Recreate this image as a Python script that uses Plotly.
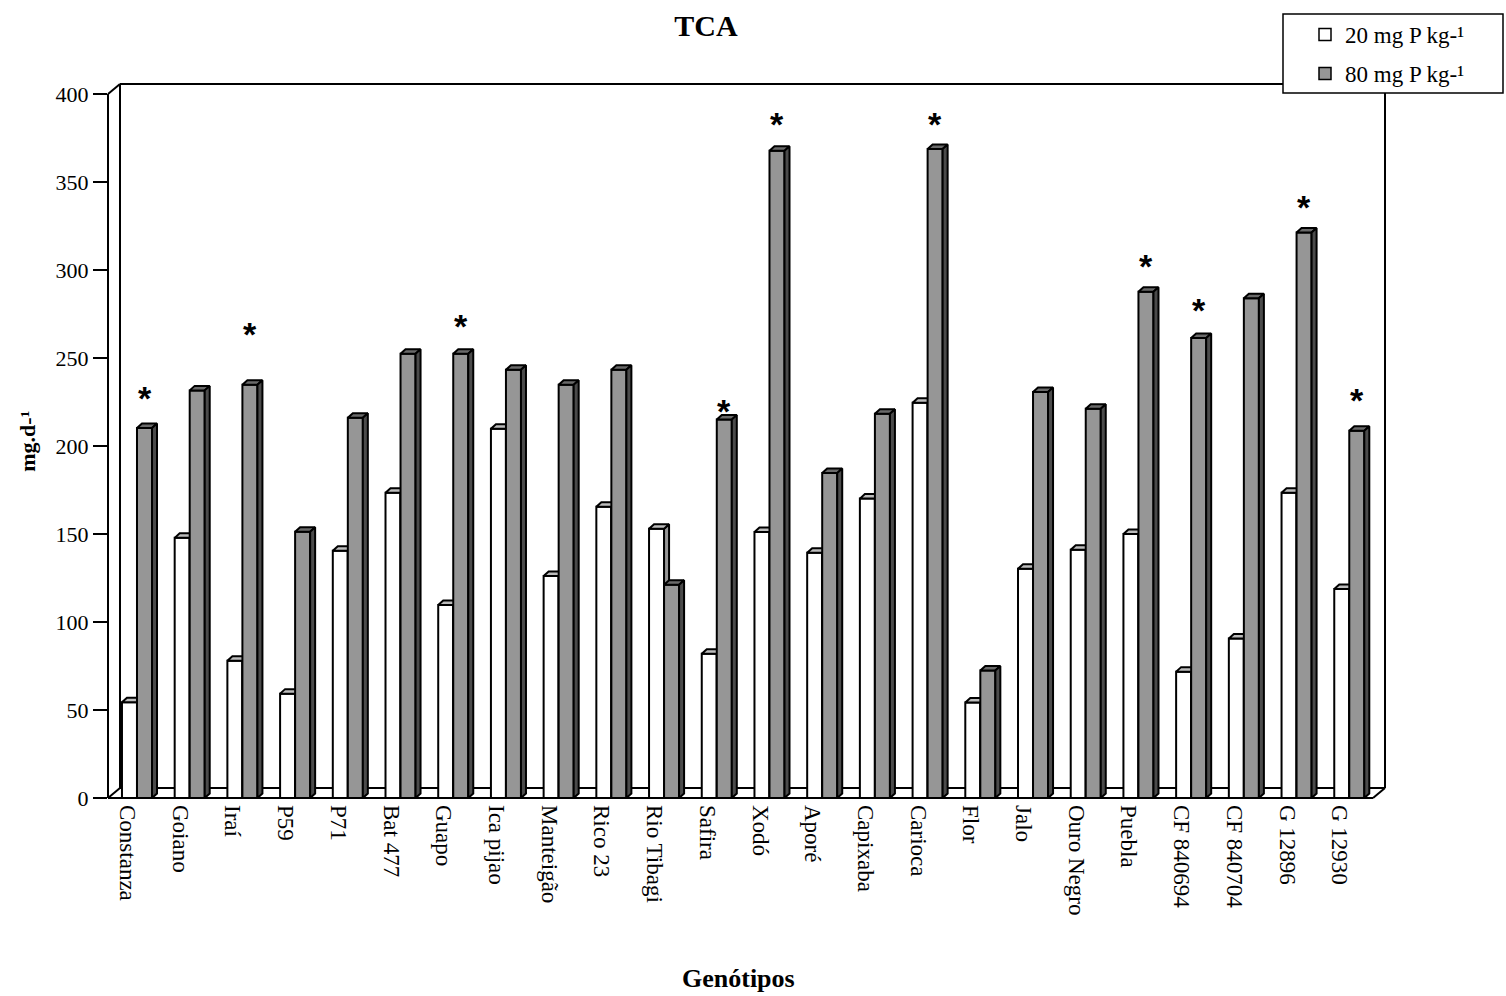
import plotly.graph_objects as go

# ---------------- data ----------------
categories = ["Constanza", "Goiano", "Iraí", "P59", "P71", "Bat 477", "Guapo",
              "Ica pijao", "Manteigão", "Rico 23", "Rio Tibagi", "Safira", "Xodó",
              "Aporé", "Capixaba", "Carioca", "Flor", "Jalo", "Ouro Negro", "Puebla",
              "CF 840694", "CF 840704", "G 12896", "G 12930"]
p20 = [54.4, 147.8, 78.0, 59.3, 140.5, 173.5, 109.6, 209.8, 126.1, 165.5, 153.0, 82.0,
       151.2, 139.4, 170.1, 224.6, 54.2, 130.3, 141.1, 150.0, 71.8, 90.6, 173.5, 118.7]
p80 = [210.2, 231.6, 234.8, 151.3, 216.1, 252.4, 252.4, 243.3, 234.8, 243.3, 121.2, 215.0,
       367.7, 184.6, 218.3, 368.8, 72.4, 230.7, 221.2, 287.6, 261.3, 284.0, 321.3, 208.6]
star_cats = ["Constanza", "Iraí", "Guapo", "Safira", "Xodó", "Carioca", "Puebla",
             "CF 840694", "G 12896", "G 12930"]
star_y = [229.7, 266.0, 270.6, 222.4, 385.3, 385.3, 304.8, 279.7, 338.3, 228.6]
y_ticks = [0, 50, 100, 150, 200, 250, 300, 350, 400]
series_names = ["20 mg P kg-¹", "80 mg P kg-¹"]

# ---------------- geometry ----------------
W, H = 1506, 996
ML, MR, MT, MB = 108, 121, 84, 197.5
plot_w = W - ML - MR
plot_h = H - MT - MB
n = len(categories)
wall_dx_px, wall_dy_px = 12, 10
bar_dx_px, bar_dy_px = 5, 4.5
y_front_top = y_ticks[-1]
sx = (plot_w - wall_dx_px) / n
sy = (plot_h - wall_dy_px) / y_front_top
wdx, wdy = wall_dx_px / sx, wall_dy_px / sy
bdx, bdy = bar_dx_px / sx, bar_dy_px / sy
xr = [-0.5, n - 0.5 + wdx]
yr = [0, y_front_top + wdy]

def fx(v):
    return (v - xr[0]) / (xr[1] - xr[0])

def fy(v):
    return (v - yr[0]) / (yr[1] - yr[0])

bw = 0.285
off = 0.05

FONT = "Liberation Serif"
C_WHITE, C_WHITE_TOP, C_WHITE_SIDE = "#ffffff", "#bdbdbd", "#969696"
C_GREY, C_GREY_TOP, C_GREY_SIDE = "#969696", "#6a6a6a", "#4b4b4b"
LW = 2


def faces(values, left_shift):
    fxs, fys, txs, tys, sxs, sys_ = [], [], [], [], [], []
    for i, v in enumerate(values):
        x0 = i + left_shift
        x1 = x0 + bw
        fxs += [x0, x1, x1, x0, x0, None]
        fys += [0, 0, v, v, 0, None]
        txs += [x0, x1, x1 + bdx, x0 + bdx, x0, None]
        tys += [v, v, v + bdy, v + bdy, v, None]
        sxs += [x1, x1 + bdx, x1 + bdx, x1, x1, None]
        sys_ += [0, bdy, v + bdy, v, 0, None]
    return (fxs, fys), (txs, tys), (sxs, sys_)


fig = go.Figure()


def poly(xy, fill):
    fig.add_trace(go.Scatter(x=xy[0], y=xy[1], mode="lines", fill="toself",
                             fillcolor=fill, line=dict(color="black", width=LW),
                             hoverinfo="skip", showlegend=False))


wf, wt, ws = faces(p20, off - bw)
gf, gt, gs = faces(p80, off)
poly(wf, C_WHITE)
poly(ws, C_WHITE_SIDE)
poly(wt, C_WHITE_TOP)
poly(gf, C_GREY)
poly(gt, C_GREY_TOP)
poly(gs, C_GREY_SIDE)

# legend entries
for name, col, grp in [(series_names[0], C_WHITE, "a"), (series_names[1], C_GREY, "b")]:
    fig.add_trace(go.Bar(x=[None], y=[None], name=name, legendgroup=grp,
                         marker=dict(color=col, line=dict(color="black", width=1.5))))

# asterisks
for c, yv in zip(star_cats, star_y):
    i = categories.index(c)
    fig.add_annotation(x=i + off + bw / 2, y=yv, text="<b>*</b>", showarrow=False,
                       xanchor="center", yanchor="middle", yshift=-4,
                       font=dict(family="Liberation Sans", size=34, color="black"))

# frame shapes
def line(xa, ya, xb, yb, layer="below"):
    fig.add_shape(type="line", xref="x domain", yref="y domain",
                  x0=fx(xa), y0=fy(ya), x1=fx(xb), y1=fy(yb),
                  line=dict(color="black", width=LW), layer=layer)

xl, xrt = -0.5, n - 0.5
line(xl + wdx, wdy, xl + wdx, y_front_top + wdy)
line(xl + wdx, y_front_top + wdy, xrt + wdx, y_front_top + wdy)
line(xrt + wdx, wdy, xrt + wdx, y_front_top + wdy)
line(xl + wdx, wdy, xrt + wdx, wdy)
line(xl, 0, xl + wdx, wdy)
line(xrt, 0, xrt + wdx, wdy)
line(xl, 0, xl, y_front_top, "above")
line(xl, y_front_top, xl + wdx, y_front_top + wdy, "above")
line(xl, 0, xrt, 0, "above")

# legend box
def px2paper_x(p):
    return (p - ML) / plot_w

def px2paper_y(p):
    return (H - MB - p) / plot_h

fig.add_shape(type="rect", xref="paper", yref="paper",
              x0=px2paper_x(1283), x1=px2paper_x(1503),
              y0=px2paper_y(93), y1=px2paper_y(14),
              line=dict(color="black", width=1.5), fillcolor="white", layer="above")

# axis titles
fig.add_annotation(xref="paper", yref="paper", x=px2paper_x(738), y=px2paper_y(979),
                   text="<b>Genótipos</b>", showarrow=False, xanchor="center", yanchor="middle",
                   font=dict(family=FONT, size=26, color="black"))
fig.add_annotation(xref="paper", yref="paper", x=px2paper_x(28), y=px2paper_y(442),
                   text="<b>mg.d-¹</b>", showarrow=False, textangle=-90,
                   xanchor="center", yanchor="middle",
                   font=dict(family=FONT, size=22, color="black"))

fig.update_layout(
    width=W, height=H,
    margin=dict(l=ML, r=MR, t=MT, b=MB, pad=0),
    paper_bgcolor="white", plot_bgcolor="white",
    title=dict(text="<b>TCA</b>", x=706 / W, xanchor="center", y=1 - 25 / H, yanchor="middle",
               font=dict(family=FONT, size=30, color="black")),
    showlegend=True,
    legend=dict(x=px2paper_x(1305), y=px2paper_y(13), xanchor="left", yanchor="top",
                bgcolor="rgba(0,0,0,0)", borderwidth=0, tracegroupgap=6,
                font=dict(family=FONT, size=23, color="black")),
    xaxis=dict(range=xr, tickmode="array", tickvals=[i - 0.13 for i in range(n)],
               ticktext=categories, tickangle=90, ticks="", showgrid=False,
               zeroline=False, showline=False, ticklabelstandoff=6,
               tickfont=dict(family=FONT, size=23, color="black")),
    yaxis=dict(range=yr, tickmode="array", tickvals=y_ticks,
               ticktext=[str(t) for t in y_ticks], ticks="outside", ticklen=14,
               tickwidth=2, tickcolor="black", showgrid=False, zeroline=False,
               showline=False, tickfont=dict(family=FONT, size=22, color="black")),
    bargap=0,
)

fig.write_html("out.html")
